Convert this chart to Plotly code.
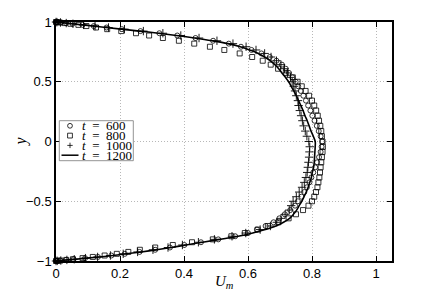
import plotly.graph_objects as go

# ---------------- data ----------------
y_grid = [1, .999, .996, .991, .985, .976, .966, .954, .940, .924, .906, .887, .866, .843, .819, .793,
          .766, .737, .707, .676, .643, .609, .574, .537, .5, .462, .423, .383, .342, .301, .259, .216,
          .174, .131, .087, .044, 0,
          -.044, -.087, -.131, -.174, -.216, -.259, -.301, -.342, -.383, -.423, -.462, -.5, -.537, -.574,
          -.609, -.643, -.676, -.707, -.737, -.766, -.793, -.819, -.843, -.866, -.887, -.906, -.924,
          -.940, -.954, -.966, -.976, -.985, -.991, -.996, -.999, -1]

u_600 = [0, .003, .014, .031, .052, .083, .118, .158, .206, .264, .323, .379, .436, .491, .54, .578,
         .611, .642, .668, .689, .706, .718, .728, .739, .749, .757, .765, .773, .781, .788, .795, .801,
         .808, .815, .821, .827, .832,
         .83, .827, .822, .816, .81, .804, .798, .792, .784, .776, .767, .756, .747, .732, .715, .698,
         .68, .655, .628, .60, .56, .507, .453, .401, .356, .31, .261, .215, .173, .131, .091, .055,
         .032, .013, .003, 0]

u_800 = [0, .003, .012, .027, .045, .07, .095, .125, .16, .204, .25, .291, .334, .384, .432, .481,
         .526, .574, .613, .646, .671, .694, .718, .740, .755, .768, .780, .791, .80, .807, .813, .818,
         .822, .826, .829, .831, .833,
         .834, .833, .831, .829, .827, .825, .823, .82, .817, .8125, .807, .80, .789, .772, .75, .727,
         .695, .662, .63, .59, .548, .49, .425, .365, .31, .262, .226, .19, .152, .115, .083, .053,
         .032, .014, .004, 0]

u_1000 = [0, .003, .014, .032, .053, .086, .122, .164, .214, .273, .334, .39, .447, .503, .553, .594,
          .625, .652, .672, .689, .703, .714, .723, .733, .738, .743, .747, .751, .756, .758, .762, .766,
          .770, .774, .779, .784, .79,
          .793, .792, .791, .789, .787, .785, .781, .776, .769, .76, .751, .741, .735, .729, .716, .703,
          .69, .67, .638, .593, .55, .495, .445, .395, .35, .303, .255, .21, .17, .13, .092, .057,
          .034, .015, .004, 0]

u_1200 = [0, .003, .014, .031, .051, .082, .116, .156, .204, .261, .320, .376, .433, .488, .537, .576,
          .605, .632, .652, .669, .684, .696, .706, .717, .727, .735, .743, .751, .758, .765, .772, .778,
          .785, .791, .797, .804, .81,
          .810, .809, .808, .807, .805, .801, .798, .793, .788, .782, .775, .768, .760, .752, .742, .730,
          .711, .687, .654, .615, .569, .512, .458, .406, .361, .315, .266, .22, .178, .136, .096, .06,
          .036, .016, .004, 0]

legend_labels = ["600", "800", "1000", "1200"]
x_ticks = [0, 0.2, 0.4, 0.6, 0.8, 1]
x_ticktext = ["0", "0.2", "0.4", "0.6", "0.8", "1"]
y_ticks = [-1, -0.5, 0, 0.5, 1]
y_ticktext = ["\u22121", "\u22120.5", "0", "0.5", "1"]

# ---------------- figure ----------------
W, H = 433, 293
ML, MR, MT, MB = 56, 41, 22, 32
PW, PH = W - ML - MR, H - MT - MB


def px(x):
    return (x - ML) / PW


def py(y):
    return (H - MB - y) / PH


fig = go.Figure()
mk = dict(color="black", size=5, line=dict(color="black", width=0.8))
fig.add_trace(go.Scatter(x=u_600, y=y_grid, mode="markers", cliponaxis=False,
                         marker=dict(symbol="circle-open", **mk), name="t = 600"))
fig.add_trace(go.Scatter(x=u_800, y=y_grid, mode="markers", cliponaxis=False,
                         marker=dict(symbol="square-open", **mk), name="t = 800"))
fig.add_trace(go.Scatter(x=u_1000, y=y_grid, mode="markers", cliponaxis=False,
                         marker=dict(symbol="cross-thin-open", size=6, color="black",
                                     line=dict(color="black", width=0.9)), name="t = 1000"))
fig.add_trace(go.Scatter(x=u_1200, y=y_grid, mode="lines", line=dict(color="black", width=1.6, shape="spline"),
                         cliponaxis=False, name="t = 1200"))

axis_common = dict(showline=True, linecolor="black", linewidth=1.5, mirror="ticks",
                   ticks="inside", ticklen=5, tickwidth=1, tickcolor="black",
                   showgrid=True, gridcolor="#b8b8b8", gridwidth=1, griddash="1px,2px",
                   zeroline=False, tickfont=dict(family="Liberation Sans, Arial", size=13, color="black"))

fig.update_layout(
    width=W, height=H, margin=dict(l=ML, r=MR, t=MT, b=MB, autoexpand=False),
    paper_bgcolor="white", plot_bgcolor="white", showlegend=False,
    xaxis=dict(range=[0, 1.05], tickvals=x_ticks, ticktext=x_ticktext, **axis_common),
    yaxis=dict(range=[-1, 1], tickvals=y_ticks, ticktext=y_ticktext, **axis_common),
)

# axis titles
serif = "Liberation Serif, Times New Roman, serif"
fig.add_annotation(x=px(20), y=0.5, xref="paper", yref="paper", text="<i>y</i>", showarrow=False,
                   textangle=-90, font=dict(family=serif, size=16, color="black"),
                   xanchor="center", yanchor="middle")
fig.add_annotation(x=px(224), y=py(282), xref="paper", yref="paper", text="<i>U</i><sub><i>m</i></sub>",
                   showarrow=False, font=dict(family=serif, size=15, color="black"),
                   xanchor="center", yanchor="middle")

# manual legend
shapes = []
shapes.append(dict(type="rect", xref="paper", yref="paper", x0=px(59.3), x1=px(133.3), y0=py(160.7), y1=py(120.7),
                   line=dict(color="#777", width=0.8), fillcolor="white", layer="above"))
rows = [125.8, 135.6, 145.4, 155.2]
mx = 70
r = 2.4
shapes.append(dict(type="circle", xref="paper", yref="paper", x0=px(mx - r), x1=px(mx + r),
                   y0=py(rows[0] + r), y1=py(rows[0] - r), line=dict(color="black", width=0.8), layer="above"))
shapes.append(dict(type="rect", xref="paper", yref="paper", x0=px(mx - r), x1=px(mx + r),
                   y0=py(rows[1] + r), y1=py(rows[1] - r), line=dict(color="black", width=0.8), layer="above"))
shapes.append(dict(type="line", xref="paper", yref="paper", x0=px(mx - r - 0.3), x1=px(mx + r + 0.3),
                   y0=py(rows[2]), y1=py(rows[2]), line=dict(color="black", width=0.8), layer="above"))
shapes.append(dict(type="line", xref="paper", yref="paper", x0=px(mx), x1=px(mx),
                   y0=py(rows[2] + r + 0.3), y1=py(rows[2] - r - 0.3), line=dict(color="black", width=0.8), layer="above"))
shapes.append(dict(type="line", xref="paper", yref="paper", x0=px(61.5), x1=px(78.5),
                   y0=py(rows[3]), y1=py(rows[3]), line=dict(color="black", width=1.5), layer="above"))
fig.update_layout(shapes=shapes)

for lab, ry in zip(legend_labels, rows):
    fig.add_annotation(x=px(80), y=py(ry), xref="paper", yref="paper",
                       text="<i>t</i>\u2002=\u2002" + lab, showarrow=False,
                       font=dict(family=serif, size=13, color="black"),
                       xanchor="left", yanchor="middle")

fig.write_html("out.html", config={"displayModeBar": False},
               post_script="document.body.style.margin='0';document.body.style.padding='0';")
